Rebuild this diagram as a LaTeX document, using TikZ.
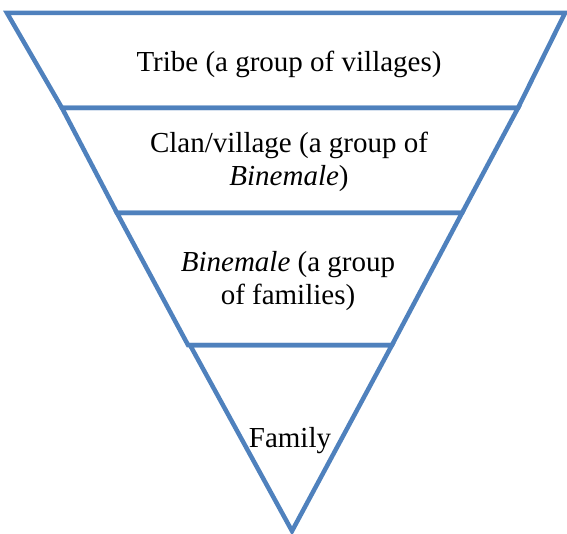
\documentclass[tikz,border=0pt]{standalone}
\usepackage{fontspec}
\setmainfont{Liberation Serif}
\begin{document}
\begin{tikzpicture}[x=1pt,y=-1pt,
  level/.style={draw=levelblue,line width=4.5pt,line join=miter},
  label/.style={font=\fontsize{29}{33}\selectfont,align=center,anchor=base,inner sep=0pt}]
\definecolor{levelblue}{HTML}{4F81BD}
\useasboundingbox (0,0) rectangle (567,534);
% corner points of the stacked levels
\coordinate (tl) at (7,13);
\coordinate (tr) at (565,13);
\coordinate (al) at (62,108);
\coordinate (ar) at (518,108);
\coordinate (bl) at (117,213);
\coordinate (br) at (462,213);
\coordinate (cl) at (188,345);
\coordinate (dl) at (190,345);
\coordinate (cr) at (392,345);
\coordinate (apex) at (292,531);
% four levels, widest on top
\draw[level] (tl) -- (tr) -- (ar) -- (al) -- cycle;
\draw[level] (al) -- (ar) -- (br) -- (bl) -- cycle;
\draw[level] (bl) -- (br) -- (cr) -- (cl) -- cycle;
\draw[level] (dl) -- (cr) -- (apex) -- cycle;
% level names (base anchor sits on the last line)
\node[label] (tribe) at (289,72) {Tribe (a group of villages)};
\node[label] (clan) at (289,186) {Clan/village (a group of\\\textit{Binemale})};
\node[label] (binemale) at (288,305) {\textit{Binemale} (a group\\of families)};
\node[label] (family) at (290,447) {Family};
\end{tikzpicture}
\end{document}
